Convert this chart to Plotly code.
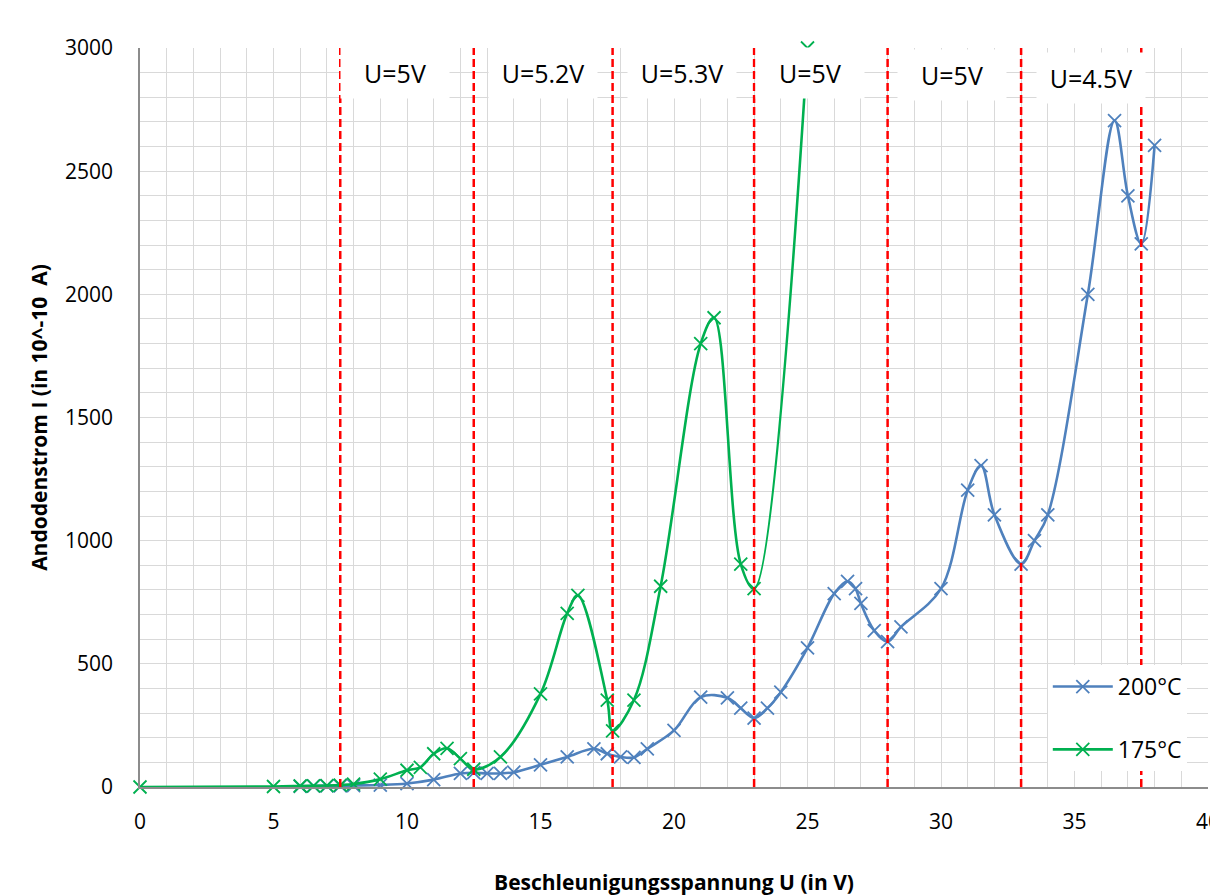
import plotly.graph_objects as go

# ---- data ----
u_200 = [6, 6.5, 7, 7.5, 8, 9, 10, 11, 12, 12.5, 13, 13.5, 14, 15, 16, 17, 17.5, 18, 18.5, 19,
         20, 21, 22, 22.5, 23, 23.5, 24, 25, 26, 26.5, 26.8, 27, 27.5, 28, 28.5, 30, 31, 31.5,
         32, 33, 33.5, 34, 35.5, 36.5, 37, 37.5, 38]
i_200 = [3, 4, 5, 5, 6, 8, 14, 30, 55, 58, 55, 55, 60, 90, 122, 155, 135, 122, 120, 155,
         230, 365, 362, 320, 280, 320, 385, 565, 785, 835, 805, 745, 635, 590, 650, 805, 1205, 1305,
         1105, 905, 1000, 1105, 2000, 2705, 2400, 2205, 2605]

u_175 = [0, 5, 6, 6.5, 7, 7.5, 8, 9, 10, 10.5, 11, 11.5, 12, 12.5, 13.5, 15, 16, 16.4, 17.5,
         17.7, 18.5, 19.5, 21, 21.5, 22.5, 23, 25]
i_175 = [0, 2, 4, 5, 6, 8, 12, 32, 68, 80, 135, 157, 115, 72, 122, 378, 705, 778, 353,
         228, 353, 815, 1800, 1905, 905, 805, 3000]

sep_lines = [7.5, 12.5, 17.7, 23, 28, 33, 37.5]
label_x = [9.55, 15.1, 20.3, 25.1, 30.4, 35.6]
label_y = [2900, 2900, 2900, 2900, 2892, 2880]
label_text = ["U=5V", "U=5.2V", "U=5.3V", "U=5V", "U=5V", "U=4.5V"]

x_ticks = [0, 5, 10, 15, 20, 25, 30, 35, 40]
y_ticks = [0, 500, 1000, 1500, 2000, 2500, 3000]

BLUE = "#4F81BD"
GREEN = "#00B050"
FONT = "Open Sans"

fig = go.Figure()
fig.add_trace(go.Scatter(
    x=u_200, y=i_200, name="200°C", mode="lines+markers",
    line=dict(color=BLUE, width=2.6, shape="spline", smoothing=1),
    marker=dict(symbol="x-thin", size=13, line=dict(color=BLUE, width=1.8)),
    cliponaxis=False, legendgroup="a",
))
fig.add_trace(go.Scatter(
    x=u_175, y=i_175, name="175°C", mode="lines+markers",
    line=dict(color=GREEN, width=2.6, shape="spline", smoothing=1),
    marker=dict(symbol="x-thin", size=13, line=dict(color=GREEN, width=1.8)),
    cliponaxis=False, legendgroup="b",
))

for xv in sep_lines:
    fig.add_shape(type="line", x0=xv, x1=xv, y0=0, y1=3000, xref="x", yref="y",
                  line=dict(color="#FF0000", width=2.5, dash="8px,4px"), layer="above")

for tx, ty, tt in zip(label_x, label_y, label_text):
    fig.add_annotation(x=tx, y=ty, text=tt, showarrow=False, xref="x", yref="y",
                       font=dict(family=FONT, size=25, color="black"),
                       bgcolor="white", width=106, height=48)

# page body adds an 8px offset; figure is sized so the plot area lands where the reference has it
fig.update_layout(
    width=1210, height=888,
    margin=dict(l=132, r=10, t=40, b=109),
    paper_bgcolor="white", plot_bgcolor="white",
    font=dict(family=FONT, size=22, color="black"),
    showlegend=True,
    legend=dict(x=0.85, y=0.165, xanchor="left", yanchor="top",
                bgcolor="white", font=dict(family=FONT, size=23),
                tracegroupgap=30, itemwidth=60),
)
fig.update_xaxes(
    range=[0, 40], tickvals=x_ticks, showgrid=True, gridcolor="#D9D9D9", gridwidth=1.2,
    minor=dict(dtick=1, showgrid=True, gridcolor="#D9D9D9", gridwidth=1.2),
    showline=True, linecolor="#8C8C8C", linewidth=1.5, zeroline=False, ticks="",
    ticklabelstandoff=15, ticklabeloverflow="allow", automargin=False,
    tickfont=dict(family=FONT, size=21),
    title=dict(text="<b>Beschleunigungsspannung U (in V)</b>", standoff=44,
               font=dict(family=FONT, size=21)),
)
fig.update_yaxes(
    range=[0, 3000], tickvals=y_ticks, showgrid=True, gridcolor="#D9D9D9", gridwidth=1.2,
    minor=dict(dtick=100, showgrid=True, gridcolor="#D9D9D9", gridwidth=1.2),
    showline=True, linecolor="#8C8C8C", linewidth=1.5, zeroline=False, ticks="",
    ticklabelstandoff=21, automargin=False,
    tickfont=dict(family=FONT, size=21),
    title=dict(text="<b>Andodenstrom I (in 10^-10  A)</b>", standoff=12,
               font=dict(family=FONT, size=21)),
)

fig.write_html("out.html")
